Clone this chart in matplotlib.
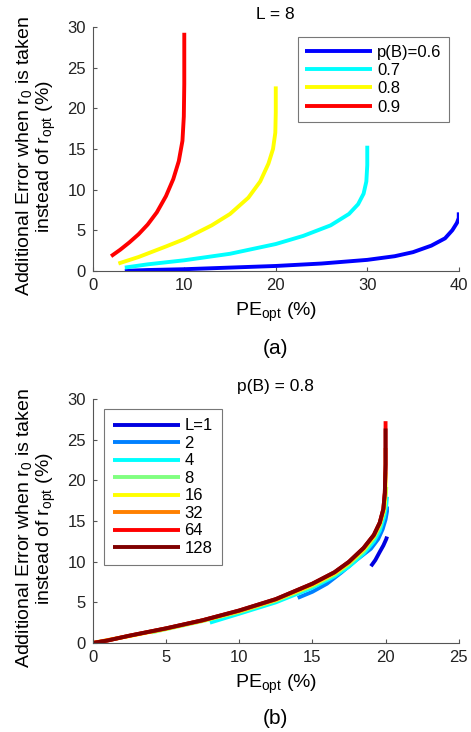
import numpy as np
import matplotlib
matplotlib.use('Agg')
import matplotlib.pyplot as plt

plt.rcParams['font.family'] = ['Liberation Sans', 'DejaVu Sans']
plt.rcParams['mathtext.fontset'] = 'custom'
plt.rcParams['mathtext.rm'] = 'Liberation Sans'
plt.rcParams['mathtext.it'] = 'Liberation Sans:italic'

# ---- panel (a): L = 8, different p(B)
pb_labels = ['p(B)=0.6', '0.7', '0.8', '0.9']
pb_colors = ['#0000ff', '#00ffff', '#ffff00', '#ff0000']
pe_a = [
    [3.5, 6, 10, 15, 20, 25, 30, 33, 35, 37, 38.5, 39.3, 39.8, 40, 40],
    [3.5, 6, 10, 15, 20, 23, 26, 28, 29, 29.6, 29.9, 30, 30],
    [2.8, 5, 8, 10, 13, 15, 17, 18.3, 19.2, 19.7, 19.95, 20, 20],
    [2.0, 3, 4, 5, 6, 7, 8, 8.8, 9.4, 9.8, 9.95, 10, 10],
]
err_a = [
    [0.0, 0.1, 0.2, 0.4, 0.6, 0.9, 1.35, 1.8, 2.3, 3.1, 4.0, 5.0, 5.9, 6.5, 7.2],
    [0.4, 0.8, 1.3, 2.1, 3.3, 4.3, 5.6, 7.0, 8.2, 9.5, 11.0, 13.0, 15.4],
    [0.9, 1.7, 3.0, 3.9, 5.6, 7.0, 9.0, 11.0, 13.2, 15.0, 17.0, 19.5, 22.7],
    [1.8, 2.6, 3.5, 4.5, 5.7, 7.2, 9.2, 11.3, 13.5, 16.0, 19.0, 23.0, 29.3],
]

# ---- panel (b): p(B) = 0.8, different L
L_labels = ['L=1', '2', '4', '8', '16', '32', '64', '128']
L_colors = ['#0000e0', '#0080ff', '#00ffff', '#80ff80',
            '#ffff00', '#ff8000', '#ff0000', '#800000']
pe_b = [
    [19.0, 19.3, 19.6, 19.85, 20.05, 20.1],
    [14.0, 15, 16, 17, 18, 19, 19.5, 19.8, 20.0, 20.1, 20.1],
    [8.0, 10, 12.5, 15, 16.5, 17.5, 18.5, 19.2, 19.6, 19.9, 20.05, 20.1],
    [4.0, 7.5, 10, 12.5, 15, 16.5, 17.5, 18.5, 19.2, 19.6, 19.9, 20.0, 20.05],
    [0, 2.5, 5, 7.5, 10, 12.5, 15, 16.5, 17.5, 18.5, 19.2, 19.6, 19.9, 20.0, 20.0],
    [0, 2.5, 5, 7.5, 10, 12.5, 15, 16.5, 17.5, 18.5, 19.2, 19.6, 19.85, 19.95, 20.0, 20.0],
    [0, 1, 2.5, 5, 7.5, 10, 12.5, 15, 16.5, 17.5, 18.5, 19.2, 19.6, 19.85, 19.95, 20.0, 20.0],
    [0, 1, 2.5, 5, 7.5, 10, 12.5, 15, 16.5, 17.5, 18.5, 19.2, 19.6, 19.85, 19.95, 20.0, 20.0],
]
err_b = [
    [9.45, 10.2, 11.2, 12.0, 12.8, 13.1],
    [5.55, 6.3, 7.3, 8.7, 10.2, 11.6, 12.8, 14.0, 15.2, 16.2, 16.8],
    [2.5, 3.6, 5.0, 6.8, 8.2, 9.4, 11.0, 12.5, 13.8, 15.5, 17.0, 18.0],
    [1.3, 2.7, 3.8, 5.2, 7.0, 8.4, 9.7, 11.3, 12.9, 14.3, 16.2, 18.0, 19.2],
    [0, 0.85, 1.75, 2.75, 3.9, 5.3, 7.15, 8.55, 9.85, 11.5, 13.1, 14.6, 16.4, 18.5, 21.0],
    [0, 0.88, 1.78, 2.78, 3.95, 5.35, 7.25, 8.65, 9.95, 11.65, 13.25, 14.75, 16.4, 18.4, 21.5, 24.0],
    [0, 0.3, 0.9, 1.8, 2.8, 4.0, 5.4, 7.3, 8.7, 10.0, 11.7, 13.3, 14.8, 16.5, 18.5, 22.0, 27.3],
    [0, 0.3, 0.9, 1.8, 2.8, 4.0, 5.4, 7.3, 8.7, 10.0, 11.7, 13.3, 14.8, 16.5, 18.5, 22.0, 26.4],
]

ylab = 'Additional Error when r$_0$ is taken\ninstead of r$_\\mathrm{opt}$ (%)'
xlab = 'PE$_\\mathrm{opt}$ (%)'

fig = plt.figure(figsize=(4.71, 7.32), dpi=100)
ax1 = fig.add_axes([0.197, 0.630, 0.777, 0.333])
ax2 = fig.add_axes([0.197, 0.1216, 0.777, 0.333])

for pe, err, c, lab in zip(pe_a, err_a, pb_colors, pb_labels):
    ax1.plot(pe, err, color=c, lw=2.8, label=lab, solid_capstyle='butt')
for pe, err, c, lab in zip(pe_b, err_b, L_colors, L_labels):
    ax2.plot(pe, err, color=c, lw=2.8, label=lab, solid_capstyle='butt')

ax1.set_xlim(0, 40)
ax1.set_xticks([0, 10, 20, 30, 40])
ax2.set_xlim(0, 25)
ax2.set_xticks([0, 5, 10, 15, 20, 25])

for ax, title in [(ax1, 'L = 8'), (ax2, 'p(B) = 0.8')]:
    ax.set_ylim(0, 30)
    ax.set_yticks([0, 5, 10, 15, 20, 25, 30])
    ax.spines['top'].set_visible(False)
    ax.spines['right'].set_visible(False)
    ax.spines['left'].set_color('#555555')
    ax.spines['bottom'].set_color('#555555')
    ax.tick_params(direction='in', length=3, labelsize=12, colors='#555555',
                   labelcolor='#222222', pad=5)
    ax.set_title(title, fontsize=12.5, pad=6)
    ax.set_xlabel(xlab, fontsize=14, labelpad=6)
    ax.set_ylabel(ylab, fontsize=14, linespacing=1.05)
    ax.yaxis.set_label_coords(-0.095, 0.47)

leg1 = ax1.legend(loc='upper right', bbox_to_anchor=(0.973, 0.959), fontsize=12,
                  handlelength=4.0, handletextpad=0.3, labelspacing=0.2,
                  fancybox=False, borderpad=0.45, borderaxespad=0)
leg1.get_frame().set_edgecolor('#555555')
leg1.get_frame().set_linewidth(0.8)

leg2 = ax2.legend(loc='upper left', bbox_to_anchor=(0.03, 0.959), fontsize=12,
                  handlelength=4.0, handletextpad=0.3, labelspacing=0.15,
                  fancybox=False, borderpad=0.55, borderaxespad=0)
leg2.get_frame().set_edgecolor('#555555')
leg2.get_frame().set_linewidth(0.8)

fig.text(0.585, 1 - 348 / 732, '(a)', ha='center', va='center', fontsize=15)
fig.text(0.585, 1 - 718 / 732, '(b)', ha='center', va='center', fontsize=15)

fig.savefig('out.png', dpi=100)
